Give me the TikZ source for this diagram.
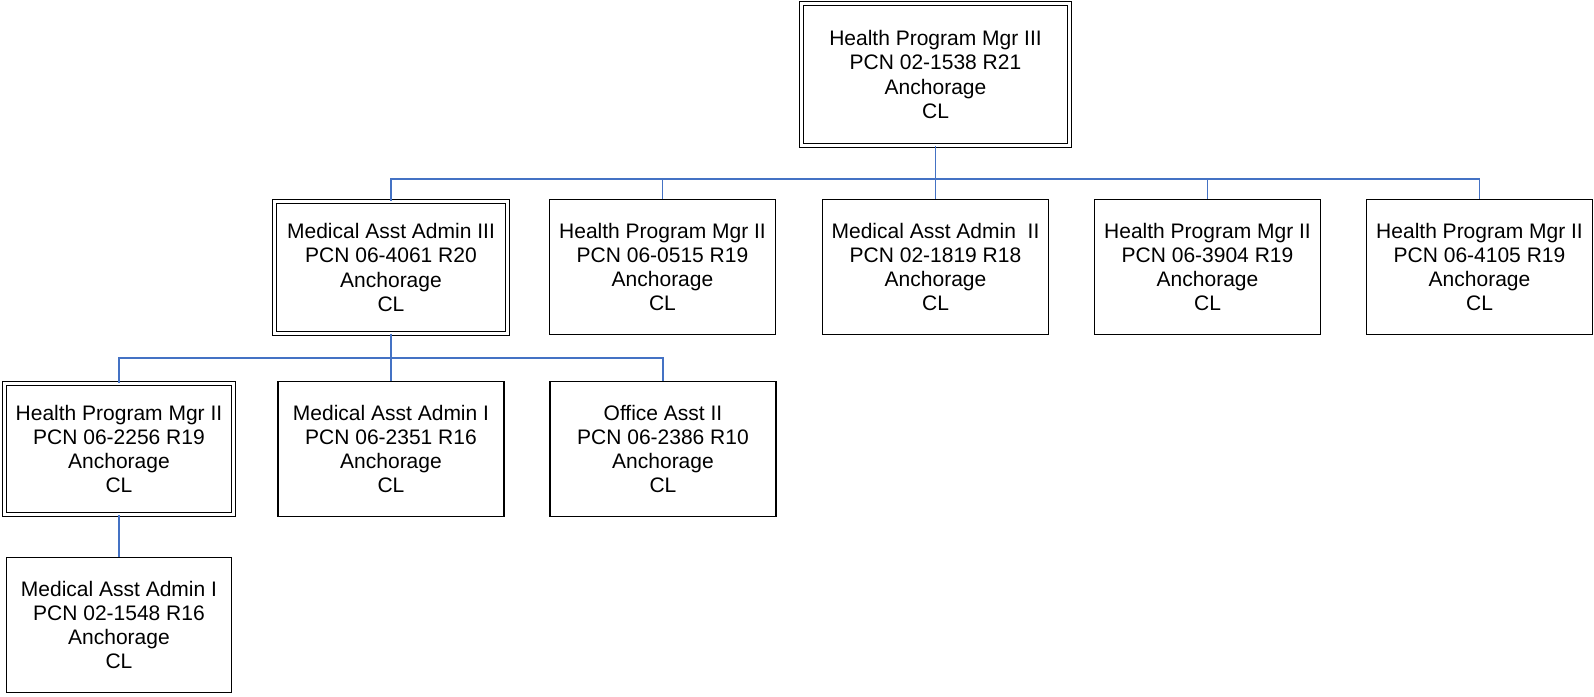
\documentclass[tikz,border=0pt]{standalone}
\usepackage{fontspec}
\setmainfont{Liberation Sans}
\definecolor{connblue}{RGB}{68,114,196}
\begin{document}
\begin{tikzpicture}[x=1pt,y=-1pt,
  box/.style={draw=black, line width=1.4pt, rectangle, inner sep=0pt,
    minimum width=226pt, minimum height=135pt, align=center,
    font=\fontsize{21}{24.15}\selectfont},
  dbox/.style={box, line width=1.2pt, double=white, double distance=2.4pt},
  conn/.style={draw=connblue, line width=1.5pt}]
\useasboundingbox (0,0) rectangle (1594,696);
% level 1
\node[dbox, minimum width=268pt, minimum height=142pt] (top) at (935.5,74.5)
  {Health Program Mgr III\\PCN 02-1538 R21\\Anchorage\\CL};
% level 2
\node[dbox, minimum width=233pt, minimum height=132pt] (a) at (391,267.5)
  {Medical Asst Admin III\\PCN 06-4061 R20\\Anchorage\\CL};
\node[box] (b) at (662.5,267) {Health Program Mgr II\\PCN 06-0515 R19\\Anchorage\\CL};
\node[box] (c) at (935.5,267) {Medical Asst Admin~~II\\PCN 02-1819 R18\\Anchorage\\CL};
\node[box] (d) at (1207.5,267) {Health Program Mgr II\\PCN 06-3904 R19\\Anchorage\\CL};
\node[box] (e) at (1479.5,267) {Health Program Mgr II\\PCN 06-4105 R19\\Anchorage\\CL};
% level 3
\node[dbox, minimum width=229pt, minimum height=131pt] (f) at (119,449)
  {Health Program Mgr II\\PCN 06-2256 R19\\Anchorage\\CL};
\node[box] (g) at (391,449) {Medical Asst Admin I\\PCN 06-2351 R16\\Anchorage\\CL};
\node[box] (h) at (663,449) {Office Asst II\\PCN 06-2386 R10\\Anchorage\\CL};
% level 4
\node[box, minimum width=225pt] (k) at (119,625) {Medical Asst Admin I\\PCN 02-1548 R16\\Anchorage\\CL};
% buses
\coordinate (bus1) at (935.5,179);
\coordinate (bus2) at (391,358);
% connectors
\draw[conn] (top.south) -- (bus1);
\draw[conn] (bus1) -| (a.north);
\draw[conn] (bus1) -| (b.north);
\draw[conn] (bus1) -- (c.north);
\draw[conn] (bus1) -| (d.north);
\draw[conn] (bus1) -| (e.north);
\draw[conn] (a.south) -- (bus2);
\draw[conn] (bus2) -| (f.north);
\draw[conn] (bus2) -- (g.north);
\draw[conn] (bus2) -| (h.north);
\draw[conn] (f.south) -- (k.north);
\end{tikzpicture}
\end{document}
